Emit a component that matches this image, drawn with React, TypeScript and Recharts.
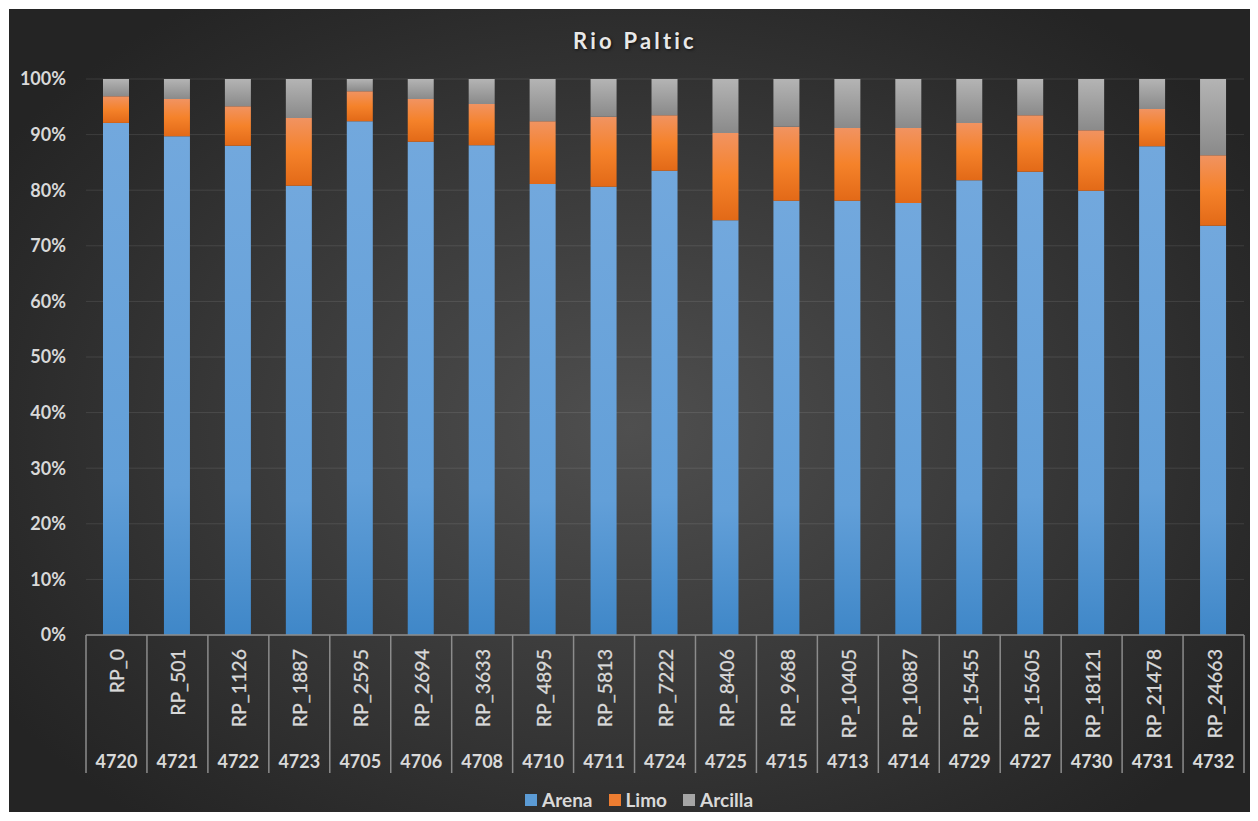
import React from "react";
import { BarChart, Bar, XAxis, YAxis, CartesianGrid } from "recharts";

const sampleNames = [
  "RP_0", "RP_501", "RP_1126", "RP_1887", "RP_2595", "RP_2694", "RP_3633",
  "RP_4895", "RP_5813", "RP_7222", "RP_8406", "RP_9688", "RP_10405",
  "RP_10887", "RP_15455", "RP_15605", "RP_18121", "RP_21478", "RP_24663",
];
const sampleCodes = [
  "4720", "4721", "4722", "4723", "4705", "4706", "4708", "4710", "4711",
  "4724", "4725", "4715", "4713", "4714", "4729", "4727", "4730", "4731", "4732",
];
const arena = [92.1, 89.7, 88.0, 80.8, 92.4, 88.7, 88.1, 81.1, 80.6, 83.5, 74.6, 78.1, 78.1, 77.7, 81.8, 83.3, 79.9, 87.9, 73.6];
const limo = [4.8, 6.7, 7.1, 12.2, 5.4, 7.7, 7.4, 11.3, 12.6, 10.0, 15.7, 13.3, 13.1, 13.5, 10.3, 10.2, 10.9, 6.7, 12.7];
const arcilla = [3.1, 3.6, 4.9, 7.0, 2.2, 3.6, 4.5, 7.6, 6.8, 6.5, 9.7, 8.6, 8.8, 8.8, 7.9, 6.5, 9.2, 5.4, 13.7];
const yTicks = [0, 0.1, 0.2, 0.3, 0.4, 0.5, 0.6, 0.7, 0.8, 0.9, 1];

const data = sampleNames.map((name, i) => ({
  name,
  code: sampleCodes[i],
  Arena: arena[i],
  Limo: limo[i],
  Arcilla: arcilla[i],
}));

const FONT = "Lato, 'Open Sans', sans-serif";
const TEXT = "#d9d9d9";
const LINE = "#8c8c8c";

const legendItems = [
  { name: "Arena", color: "#5b9bd5" },
  { name: "Limo", color: "#ed7d31" },
  { name: "Arcilla", color: "#a5a5a5" },
];

const SampleTick = (props: any) => {
  const { x, y, payload, index } = props;
  const half = payload && payload.offset ? payload.offset : 30.5;
  const last = index === data.length - 1;
  return (
    <g>
      <line x1={x - half} y1={y} x2={x - half} y2={y + 138} stroke={LINE} strokeWidth={1.5} />
      {last && (
        <line x1={x + half} y1={y} x2={x + half} y2={y + 138} stroke={LINE} strokeWidth={1.5} />
      )}
      <text
        transform={`translate(${x + 0.5},${y + 14}) rotate(-90)`}
        textAnchor="end"
        dominantBaseline="central"
        fill={TEXT}
        stroke={TEXT}
        strokeWidth={0.3}
        fontSize={19.5}
        fontFamily={FONT}
      >
        {payload.value}
      </text>
      <text
        x={x}
        y={y + 126}
        textAnchor="middle"
        dominantBaseline="central"
        fill={TEXT}
        fontSize={18}
        fontWeight={700}
        fontFamily={FONT}
      >
        {sampleCodes[index]}
      </text>
    </g>
  );
};

export default function App() {
  return (
    <div
      style={{
        position: "relative",
        width: 1241,
        height: 803,
        marginLeft: 1,
        marginTop: 1,
        background:
          "radial-gradient(ellipse 60% 65% at 50% 52%, #4f4f4f 0%, #3c3c3c 45%, #2a2a2a 85%, #242424 100%)",
        fontFamily: FONT,
      }}
    >
      <div
        style={{
          position: "absolute",
          left: 476,
          width: 300,
          top: 18,
          textAlign: "center",
          color: "#e8e8e8",
          fontSize: 22,
          fontWeight: 700,
          letterSpacing: 3.2,
          textShadow: "1px 1px 3px rgba(0,0,0,0.7)",
        }}
      >
        Rio Paltic
      </div>
      <BarChart
        width={1241}
        height={803}
        data={data}
        stackOffset="expand"
        barSize={26}
        margin={{ top: 70, right: 6, left: 17, bottom: 39 }}
      >
        <defs>
          <linearGradient id="gArena" x1="0" y1="0" x2="0" y2="1">
            <stop offset="0%" stopColor="#72a8dd" />
            <stop offset="70%" stopColor="#629fd8" />
            <stop offset="100%" stopColor="#3f87c8" />
          </linearGradient>
          <linearGradient id="gLimo" x1="0" y1="0" x2="0" y2="1">
            <stop offset="0%" stopColor="#f19361" />
            <stop offset="50%" stopColor="#f5822a" />
            <stop offset="100%" stopColor="#e26917" />
          </linearGradient>
          <linearGradient id="gArcilla" x1="0" y1="0" x2="0" y2="1">
            <stop offset="0%" stopColor="#b4b4b4" />
            <stop offset="100%" stopColor="#8a8a8a" />
          </linearGradient>
        </defs>
        <CartesianGrid vertical={false} stroke="#ffffff" strokeOpacity={0.1} />
        <XAxis
          dataKey="name"
          interval={0}
          height={138}
          tickLine={false}
          tickSize={0}
          tickMargin={0}
          axisLine={{ stroke: LINE, strokeWidth: 1.5 }}
          tick={<SampleTick />}
        />
        <YAxis
          width={60}
          domain={[0, 1]}
          ticks={yTicks}
          axisLine={false}
          tickLine={false}
          tickSize={0}
          tickMargin={20}
          tickFormatter={(v: number) => `${Math.round(v * 100)}%`}
          tick={{ fill: TEXT, fontSize: 18, fontWeight: 700, fontFamily: FONT }}
        />
        <Bar dataKey="Arena" stackId="s" fill="url(#gArena)" isAnimationActive={false} />
        <Bar dataKey="Limo" stackId="s" fill="url(#gLimo)" isAnimationActive={false} />
        <Bar dataKey="Arcilla" stackId="s" fill="url(#gArcilla)" isAnimationActive={false} />
      </BarChart>
      <div
        style={{
          position: "absolute",
          left: 516,
          top: 779,
          display: "flex",
          alignItems: "center",
          gap: 16,
          color: TEXT,
          fontSize: 19,
          fontWeight: 700,
        }}
      >
        {legendItems.map((item) => (
          <div key={item.name} style={{ display: "flex", alignItems: "center" }}>
            <span
              style={{
                display: "inline-block",
                width: 12,
                height: 12,
                marginRight: 5,
                background: item.color,
              }}
            />
            {item.name}
          </div>
        ))}
      </div>
    </div>
  );
}
